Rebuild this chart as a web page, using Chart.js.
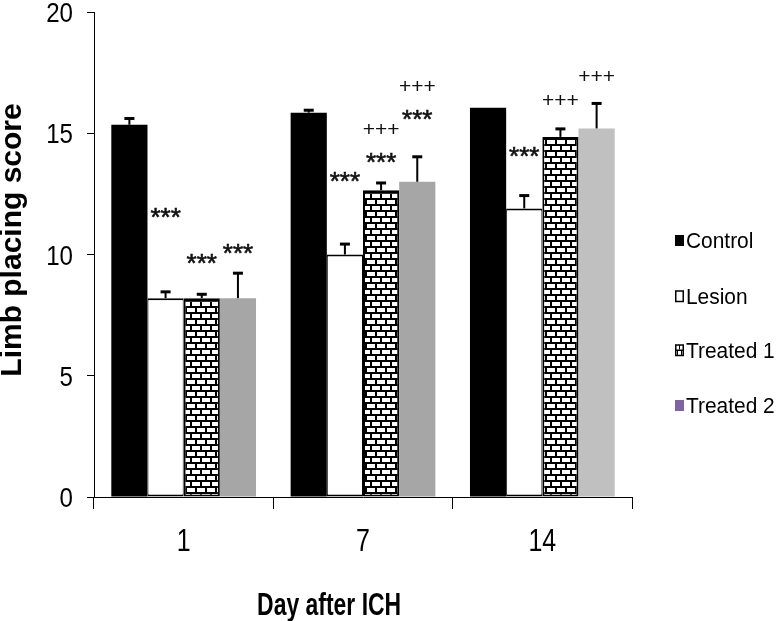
<!DOCTYPE html>
<html>
<head>
<meta charset="utf-8">
<script src="https://cdn.jsdelivr.net/npm/chart.js@4.4.1/dist/chart.umd.min.js"></script>
<style>
  html, body { margin: 0; padding: 0; background: #fff; }
  canvas { display: block; }
</style>
</head>
<body>
<canvas id="barras" width="782" height="621"></canvas>
<script>
// Datos (valores aproximados)
var dias = ["1", "7", "14"];
var grupos = ["Control", "Lesion", "Treated 1", "Treated 2"];
var control = [15.35, 15.85, 16.05];
var lesion = [8.2, 10.0, 11.9];
var tratado1 = [8.2, 12.65, 14.85];
var tratado2 = [8.2, 13.0, 15.2];

// Error (solo hacia arriba)
var errControl = [0.28, 0.12, 0];
var errLesion = [0.28, 0.45, 0.55];
var errTratado1 = [0.18, 0.32, 0.35];
var errTratado2 = [1.05, 1.05, 1.05];

// Altura (en unidades del eje Y) de las marcas de significación
var asteriscos = [
    [null, null, null],
    [11.77, 13.29, 14.29],
    [9.91, 14.04, null],
    [10.32, 15.81, null]
];
var cruces = [
    [null, null, null],
    [null, null, null],
    [null, 15.19, 16.39],
    [null, 16.97, 17.38]
];

var SANS = "'Liberation Sans', Arial, sans-serif";

/**
 * Texto estrechado horizontalmente (imita Arial Narrow)
 */
function textoEstrecho(ctx, txt, x, y, escala, alineado) {
    ctx.save();
    ctx.translate(x, y);
    ctx.scale(escala, 1);
    ctx.textAlign = alineado;
    ctx.fillText(txt, 0, 0);
    ctx.restore();
}

/**
 * Patrón de ladrillos para la serie Treated 1
 */
function patronLadrillo(ctx) {
    var c = document.createElement("canvas");
    c.width = 10;
    c.height = 12;
    var g = c.getContext("2d");
    g.fillStyle = "#fff";
    g.fillRect(0, 0, 10, 12);
    g.fillStyle = "#000";
    g.fillRect(0, 0, 10, 2);
    g.fillRect(0, 6, 10, 2);
    g.fillRect(0, 2, 2, 4);
    g.fillRect(5, 8, 2, 4);
    return ctx.createPattern(c, "repeat");
}

/**
 * Barras de error, asteriscos, etiquetas, leyenda y títulos de ejes
 */
var extras = {
    id: "extras",
    afterDatasetsDraw: function (chart) {
        var ctx = chart.ctx;
        var ejeY = chart.scales.y;
        var errores = [errControl, errLesion, errTratado1, errTratado2];
        ctx.save();
        chart.data.datasets.forEach(function (ds, i) {
            var meta = chart.getDatasetMeta(i);
            meta.data.forEach(function (barra, j) {
                var e = errores[i][j];
                if (e > 0) {
                    var yTop = ejeY.getPixelForValue(ds.data[j] + e);
                    ctx.fillStyle = "#000";
                    ctx.fillRect(barra.x - 1, yTop, 2, barra.y - yTop);
                    ctx.fillRect(barra.x - 5, yTop - 1, 10, 3);
                }
                ctx.fillStyle = "#111";
                ctx.strokeStyle = "#111";
                ctx.lineWidth = 0.6;
                ctx.textAlign = "center";
                ctx.textBaseline = "alphabetic";
                if (asteriscos[i][j] != null) {
                    ctx.font = "26px " + SANS;
                    var ya = ejeY.getPixelForValue(asteriscos[i][j]) + 0.57 * 26;
                    ctx.fillText("***", barra.x, ya);
                    ctx.strokeText("***", barra.x, ya);
                }
                if (cruces[i][j] != null) {
                    ctx.font = "21px " + SANS;
                    ctx.fillText("+++", barra.x, ejeY.getPixelForValue(cruces[i][j]) + 0.35 * 21);
                }
            });
        });
        ctx.restore();
    },
    afterDraw: function (chart) {
        var ctx = chart.ctx;
        var area = chart.chartArea;
        var ejeX = chart.scales.x;
        var ejeY = chart.scales.y;
        ctx.save();
        ctx.fillStyle = "#000";
        ctx.textBaseline = "alphabetic";

        // Etiquetas eje Y
        ctx.font = "28px " + SANS;
        ejeY.ticks.forEach(function (t, k) {
            textoEstrecho(ctx, String(t.value), 73, ejeY.getPixelForTick(k) + 10, 0.86, "right");
        });

        // Etiquetas eje X
        ctx.font = "32px " + SANS;
        dias.forEach(function (d, k) {
            textoEstrecho(ctx, d, ejeX.getPixelForTick(k), 551, 0.78, "center");
        });

        // Título eje Y
        ctx.save();
        ctx.translate(13, 240);
        ctx.rotate(-Math.PI / 2);
        ctx.font = "bold 30px " + SANS;
        ctx.textAlign = "center";
        ctx.textBaseline = "middle";
        ctx.fillText("Limb placing score", 0, 0);
        ctx.restore();

        // Título eje X
        ctx.font = "bold 31px " + SANS;
        textoEstrecho(ctx, "Day after ICH", area.left + (area.right - area.left) * 0.437, 615, 0.74, "center");

        // Leyenda
        var xCaja = area.right + 43;
        var yItems = [240, 296, 350, 405];
        ctx.font = "22px " + SANS;
        grupos.forEach(function (nombre, i) {
            var y = yItems[i];
            if (i === 0) {
                ctx.fillStyle = "#000";
                ctx.fillRect(xCaja, y - 5, 9, 11);
            } else if (i === 1) {
                ctx.strokeStyle = "#000";
                ctx.lineWidth = 1.5;
                ctx.strokeRect(xCaja + 0.75, y - 5, 7.5, 10.5);
            } else if (i === 2) {
                ctx.strokeStyle = "#000";
                ctx.lineWidth = 1.5;
                ctx.strokeRect(xCaja + 0.75, y - 5, 7.5, 10.5);
                ctx.fillStyle = "#000";
                ctx.fillRect(xCaja, y - 0.5, 9, 1.5);
                ctx.fillRect(xCaja + 4, y - 5, 1, 4.5);
                ctx.fillRect(xCaja + 2, y + 1, 1, 4);
                ctx.fillRect(xCaja + 6, y + 1, 1, 4);
            } else {
                ctx.fillStyle = "#8064a2";
                ctx.fillRect(xCaja, y - 5, 9, 11);
            }
            ctx.fillStyle = "#000";
            textoEstrecho(ctx, nombre, xCaja + 11, y + 8, 0.95, "left");
        });
        ctx.restore();
    }
};

function cargaGrafico() {
    var lienzo = document.getElementById("barras");
    var grafico = lienzo.getContext("2d");

    var datos = {
        labels: dias,
        datasets: [{
            label: grupos[0],
            data: control,
            backgroundColor: "#000",
            borderWidth: 0
        }, {
            label: grupos[1],
            data: lesion,
            backgroundColor: "#fff",
            borderColor: "#000",
            borderWidth: { top: 2, left: 1, right: 1, bottom: 2 },
            borderSkipped: false
        }, {
            label: grupos[2],
            data: tratado1,
            backgroundColor: patronLadrillo(grafico),
            borderColor: "#000",
            borderWidth: { top: 3, left: 2, right: 2, bottom: 2 },
            borderSkipped: false
        }, {
            label: grupos[3],
            data: tratado2,
            backgroundColor: ["#a6a6a6", "#a6a6a6", "#c0c0c0"],
            borderWidth: 0
        }]
    };

    var config = {
        type: "bar",
        data: datos,
        options: {
            responsive: false,
            animation: false,
            devicePixelRatio: 1,
            layout: {
                padding: { top: 12, right: 150, left: 0, bottom: 0 }
            },
            datasets: {
                bar: {
                    categoryPercentage: 0.807,
                    barPercentage: 1
                }
            },
            plugins: {
                legend: { display: false },
                tooltip: { enabled: false }
            },
            scales: {
                x: {
                    afterFit: function (escala) { escala.height = 124; },
                    border: { color: "#000", width: 1 },
                    grid: {
                        offset: true,
                        drawOnChartArea: false,
                        color: "#000",
                        tickLength: 12
                    },
                    ticks: { display: false }
                },
                y: {
                    min: 0,
                    max: 20,
                    afterFit: function (escala) { escala.width = 94; },
                    border: { color: "#000", width: 1 },
                    grid: {
                        drawOnChartArea: false,
                        color: "#000",
                        tickLength: 7
                    },
                    ticks: { display: false, stepSize: 5 }
                }
            }
        },
        plugins: [extras]
    };

    new Chart(grafico, config);
}

cargaGrafico();
</script>
</body>
</html>
